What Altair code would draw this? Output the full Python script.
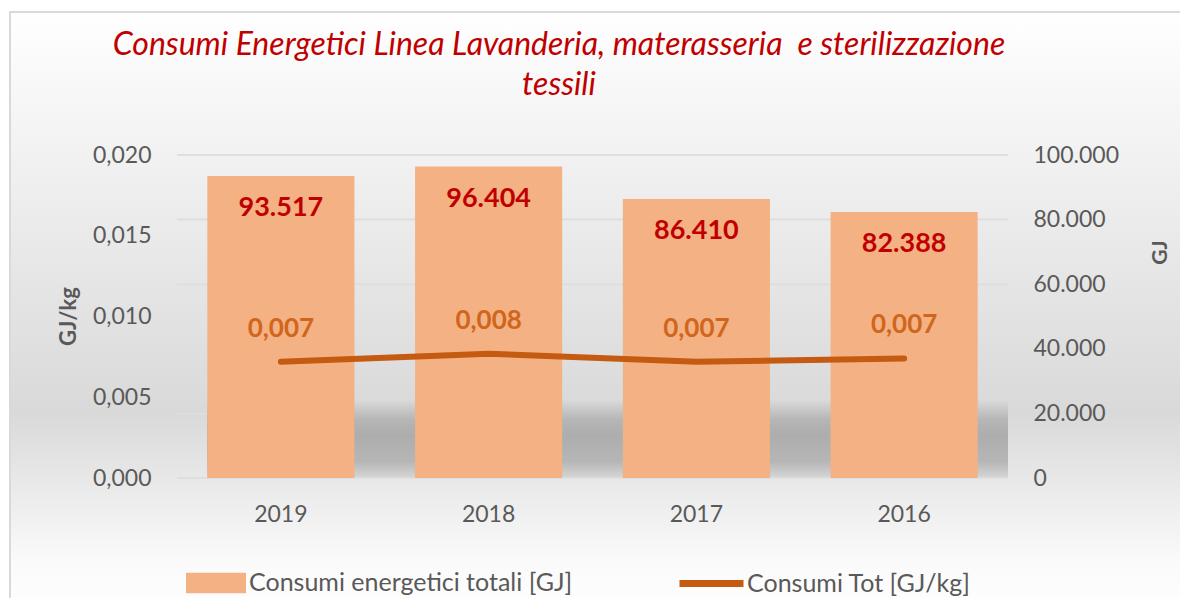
import altair as alt
import pandas as pd

# ---------------- data ----------------
years = ["2019", "2018", "2017", "2016"]
energy_gj = [93517, 96404, 86410, 82388]
energy_gj_per_kg = [0.0072, 0.0077, 0.0072, 0.0074]
gj_ticks = [0, 20000, 40000, 60000, 80000, 100000]
gjkg_ticks = [0, 0.005, 0.010, 0.015, 0.020]

series_bar = "Consumi energetici totali [GJ]"
series_line = "Consumi Tot [GJ/kg]"
title_line1 = "Consumi Energetici Linea Lavanderia, materasseria\u00a0 e sterilizzazione"
title_line2 = "tessili"

bar_labels = [f"{v:,}".replace(",", ".") for v in energy_gj]
line_labels = [f"{v:.3f}".replace(".", ",") for v in energy_gj_per_kg]

df = pd.DataFrame({
    "year": years,
    "gj": energy_gj,
    "gjkg": energy_gj_per_kg,
    "bar_label": bar_labels,
    "line_label": line_labels,
    "bar_series": [series_bar] * len(years),
    "line_series": [series_line] * len(years),
})
grid_df = pd.DataFrame({"gj": gj_ticks})

# ---------------- layout ----------------
W, H = 831, 323
FONT = "Lato"
GREY = "#595959"
BAR = "#F4B183"
LINE = "#C55A11"
RED = "#C00000"

x_enc = alt.X(
    "year:N", sort=years, title=None,
    scale=alt.Scale(paddingInner=0.292, paddingOuter=0.146),
    axis=alt.Axis(labelFontSize=23, labelColor=GREY, labelFont=FONT, labelAngle=0,
                  labelPadding=25, ticks=False, domain=False, grid=False, zindex=1),
)

right_axis = alt.Axis(orient="right", values=gj_ticks,
                      labelExpr="replace(format(datum.value, ','), ',', '.')",
                      grid=False, ticks=False, domain=False, zindex=1,
                      labelFontSize=23, labelColor=GREY, labelFont=FONT, labelPadding=25,
                      title="GJ", titleFontSize=21, titleColor=GREY, titleFont=FONT,
                      titleFontWeight="bold", titleAngle=270, titleX=152, titleY=97,
                      titleAlign="center", titleBaseline="middle")
left_axis = alt.Axis(orient="left", values=gjkg_ticks,
                     labelExpr="replace(format(datum.value, '.3f'), '.', ',')",
                     grid=False, ticks=False, domain=False, zindex=1,
                     labelFontSize=23, labelColor=GREY, labelFont=FONT, labelPadding=26,
                     title="GJ/kg", titleFontSize=22, titleColor=GREY, titleFont=FONT,
                     titleFontWeight="bold", titleAngle=270, titleX=-109, titleY=161,
                     titleAlign="center", titleBaseline="middle")

y_gj = alt.Y("gj:Q", scale=alt.Scale(domain=[0, 100000], nice=False), axis=right_axis)
y_gjkg = alt.Y("gjkg:Q", scale=alt.Scale(domain=[0, 0.02], nice=False), axis=left_axis)

one = alt.Data(values=[{"a": 1}])

# background (decoration)
bg = alt.Chart(one).mark_rect(
    fill=alt.LinearGradient(
        gradient="linear", x1=0, x2=0, y1=0, y2=1,
        stops=[
            alt.GradientStop(color="#ffffff", offset=0),
            alt.GradientStop(color="#d9d9d9", offset=0.66),
            alt.GradientStop(color="#fafafa", offset=0.9),
            alt.GradientStop(color="#ffffff", offset=1),
        ],
    ),
    stroke="#d9d9d9", strokeWidth=2,
).encode(x=alt.value(-167), x2=alt.value(1200), y=alt.value(-143), y2=alt.value(465))

# title as text
title1 = alt.Chart(one).mark_text(
    text=title_line1, font=FONT, fontSize=32, fontStyle="italic", color=RED,
    align="center", baseline="alphabetic",
).encode(x=alt.value(382), y=alt.value(-100))
title2 = alt.Chart(one).mark_text(
    text=title_line2, font=FONT, fontSize=32, fontStyle="italic", color=RED,
    align="center", baseline="alphabetic",
).encode(x=alt.value(382), y=alt.value(-60))

shadow = alt.Chart(one).mark_rect(
    fill=alt.LinearGradient(
        gradient="linear", x1=0, x2=0, y1=0, y2=1,
        stops=[
            alt.GradientStop(color="#dadada", offset=0),
            alt.GradientStop(color="#b6b6b6", offset=0.25),
            alt.GradientStop(color="#adadad", offset=0.45),
            alt.GradientStop(color="#b6b6b6", offset=0.8),
            alt.GradientStop(color="#d4d4d4", offset=1),
        ],
    ),
).encode(x=alt.value(30), x2=alt.value(W), y=alt.value(245), y2=alt.value(H - 1))

# ---- right scale group (bars) ----
grid = alt.Chart(grid_df).mark_rule(color="#dedede", strokeWidth=2).encode(y=y_gj)

bars = alt.Chart(df).mark_bar().encode(
    x=x_enc,
    y=y_gj,
    fill=alt.Fill("bar_series:N", scale=alt.Scale(range=[BAR]),
                  legend=alt.Legend(title=None, orient="none", legendX=9, legendY=398,
                                    symbolType="M-1,-0.34H1V0.34H-1Z", symbolSize=3600,
                                    symbolStrokeWidth=0, labelFontSize=25, labelColor=GREY,
                                    labelFont=FONT, labelOffset=3, padding=0, labelLimit=0)),
)

bar_text = alt.Chart(df).mark_text(
    fontSize=27, fontWeight="bold", color=RED, font=FONT, baseline="middle", dy=32
).encode(x=x_enc, y=y_gj, text="bar_label:N")

right_group = alt.layer(grid, shadow, bars, bar_text)

# ---- left scale group (line) ----
line = alt.Chart(df).mark_line(strokeWidth=6, strokeCap="round").encode(
    x=x_enc,
    y=y_gjkg,
    stroke=alt.Stroke("line_series:N", scale=alt.Scale(range=[LINE]),
                      legend=alt.Legend(title=None, orient="none", legendX=499, legendY=393,
                                        symbolType="stroke", symbolSize=4096,
                                        symbolStrokeWidth=7, labelFontSize=25, labelColor=GREY,
                                        labelFont=FONT, labelOffset=0, padding=0, labelLimit=0)),
)

line_text = alt.Chart(df).mark_text(
    fontSize=26, fontWeight="bold", color="#D0661C", font=FONT, baseline="middle", dy=-33
).encode(x=x_enc, y=y_gjkg, text="line_label:N")

left_group = alt.layer(line, line_text)

chart = alt.layer(bg, title1, title2, right_group, left_group).resolve_scale(
    y="independent", fill="independent", stroke="independent"
).properties(
    width=W, height=H,
    autosize=alt.AutoSizeParams(type="none"),
    padding={"left": 169, "top": 147, "right": 172, "bottom": 120},
).configure_view(stroke=None).configure(background="white")

chart.save("out.html", embed_options={"renderer": "svg", "actions": False})
